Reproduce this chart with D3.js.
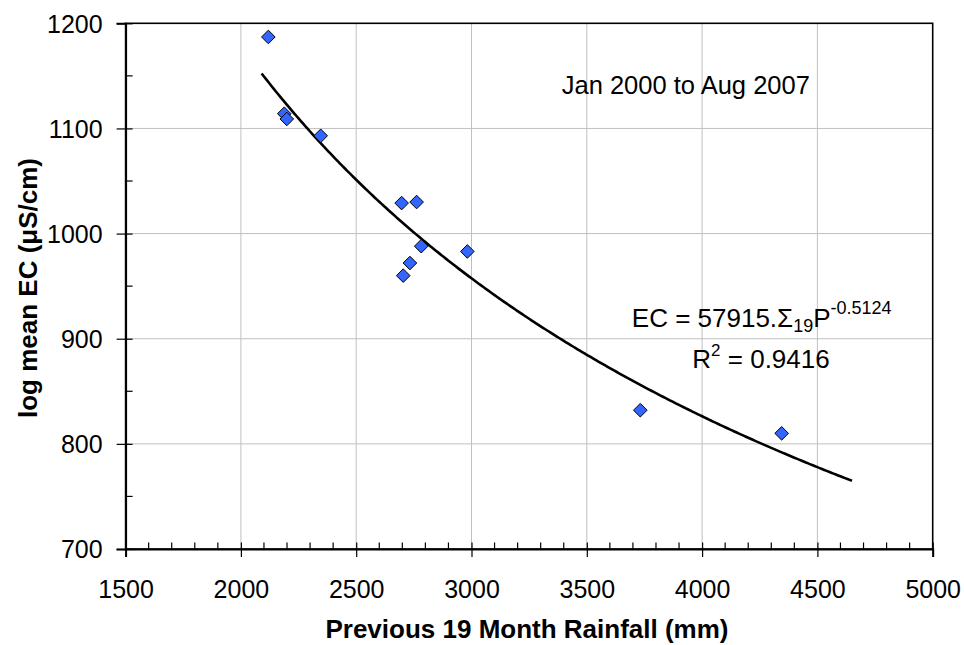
<!DOCTYPE html>
<html><head><meta charset="utf-8">
<script src="https://cdn.jsdelivr.net/npm/d3@7"></script>
<style>
html,body{margin:0;padding:0;background:#fff;}
svg text{font-family:"Liberation Sans",Arial,sans-serif;fill:#000;}
</style></head>
<body><svg id="chart" width="964" height="645"></svg>
<script>
// Data
const rainfall = [2119, 2188, 2199, 2346, 2697, 2762, 2782, 2733, 2704, 2982, 3732, 4345];
const ecValues = [1187, 1114, 1109, 1093, 1029, 1030, 988, 972, 960, 983, 832, 810];
const xTicks = [1500, 2000, 2500, 3000, 3500, 4000, 4500, 5000];
const yTicks = [700, 800, 900, 1000, 1100, 1200];
// Power trend line as stated on the chart: EC = a * P^b
const trendA = 57915, trendB = -0.5124;
const trendRange = [2090, 4650];

const svg = d3.select("#chart");
const m = {left:125.6, top:23.3, right:964-932.7, bottom:645-549};
const W = 964 - m.left - m.right, H = 645 - m.top - m.bottom;
const g = svg.append("g").attr("transform", `translate(${m.left},${m.top})`);

const x = d3.scaleLinear().domain([1500, 5000]).range([0, W]);
const y = d3.scaleLinear().domain([700, 1200]).range([H, 0]);

// gridlines
g.append("g").selectAll("line").data(xTicks.slice(1, -1)).join("line")
  .attr("x1", d => x(d)).attr("x2", d => x(d)).attr("y1", 0).attr("y2", H)
  .attr("stroke", "#c0c0c0").attr("stroke-width", 1);
g.append("g").selectAll("line").data(yTicks.slice(1, -1)).join("line")
  .attr("y1", d => y(d)).attr("y2", d => y(d)).attr("x1", 0).attr("x2", W)
  .attr("stroke", "#c0c0c0").attr("stroke-width", 1);

// plot border
g.append("rect").attr("x", 0).attr("y", 0).attr("width", W).attr("height", H)
  .attr("fill", "none").attr("stroke", "#000").attr("stroke-width", 1.6);

// minor ticks (inside)
const xMinor = d3.range(1500, 5001, 100).filter(v => v % 500 !== 0);
const yMinor = d3.range(750, 1200, 100);
g.append("g").selectAll("line").data(xMinor).join("line")
  .attr("x1", d => x(d)).attr("x2", d => x(d)).attr("y1", H).attr("y2", H - 6.5)
  .attr("stroke", "#000").attr("stroke-width", 1.2);
g.append("g").selectAll("line").data(yMinor).join("line")
  .attr("y1", d => y(d)).attr("y2", d => y(d)).attr("x1", 0).attr("x2", 7)
  .attr("stroke", "#000").attr("stroke-width", 1.2);

// axes
const xAxis = d3.axisBottom(x).tickValues(xTicks).tickSize(8).tickPadding(23).tickFormat(d3.format("d"));
const yAxis = d3.axisLeft(y).tickValues(yTicks).tickSize(9).tickPadding(14).tickFormat(d3.format("d"));
const gx = g.append("g").attr("transform", `translate(0,${H})`).call(xAxis);
const gy = g.append("g").call(yAxis);
[gx, gy].forEach(a => {
  a.select(".domain").attr("stroke", "#000").attr("stroke-width", 2);
  a.selectAll(".tick line").attr("stroke", "#000").attr("stroke-width", 1.2);
  a.selectAll(".tick text").attr("font-size", 25).attr("font-family", '"Liberation Sans",Arial,sans-serif');
});
// major ticks cross the axis
gx.selectAll(".tick line").attr("y1", -6.5);
gy.selectAll(".tick line").attr("x1", 7);
gy.selectAll(".tick text").attr("dy", "0.35em");

// trend line
const trendPts = d3.range(trendRange[0], trendRange[1] + 1, 10).map(p => [p, trendA * Math.pow(p, trendB)]);
g.append("path").datum(trendPts)
  .attr("d", d3.line().x(d => x(d[0])).y(d => y(d[1])))
  .attr("fill", "none").attr("stroke", "#000").attr("stroke-width", 2.6);

// markers
const pts = rainfall.map((r, i) => ({r, e: ecValues[i]}));
g.append("g").selectAll("path").data(pts).join("path")
  .attr("transform", d => `translate(${x(d.r)},${y(d.e)})`)
  .attr("d", "M0,-6.8L6.8,0L0,6.8L-6.8,0Z")
  .attr("fill", "#3366ff").attr("stroke", "#000").attr("stroke-width", 1);

// annotations
svg.append("text").attr("x", 685.8).attr("y", 94).attr("text-anchor", "middle")
  .attr("font-size", 25.5).text("Jan 2000 to Aug 2007");

const eq = svg.append("text").attr("x", 761.7).attr("y", 327).attr("text-anchor", "middle").attr("font-size", 26);
eq.append("tspan").text("EC = 57915.Σ");
eq.append("tspan").attr("font-size", 18).attr("dy", 5).text("19");
eq.append("tspan").attr("dy", -5).text("P");
eq.append("tspan").attr("font-size", 18).attr("dy", -13).text("-0.5124");

const r2 = svg.append("text").attr("x", 761).attr("y", 368).attr("text-anchor", "middle").attr("font-size", 26);
r2.append("tspan").text("R");
r2.append("tspan").attr("font-size", 17).attr("dy", -12).text("2");
r2.append("tspan").attr("dy", 12).text(" = 0.9416");

// axis titles
svg.append("text").attr("x", 527).attr("y", 638).attr("text-anchor", "middle")
  .attr("font-size", 26).attr("font-weight", "bold").text("Previous 19 Month Rainfall (mm)");
svg.append("text").attr("transform", "translate(37,288) rotate(-90)").attr("text-anchor", "middle")
  .attr("font-size", 26).attr("font-weight", "bold").text("log mean EC (μS/cm)");
</script></body></html>
